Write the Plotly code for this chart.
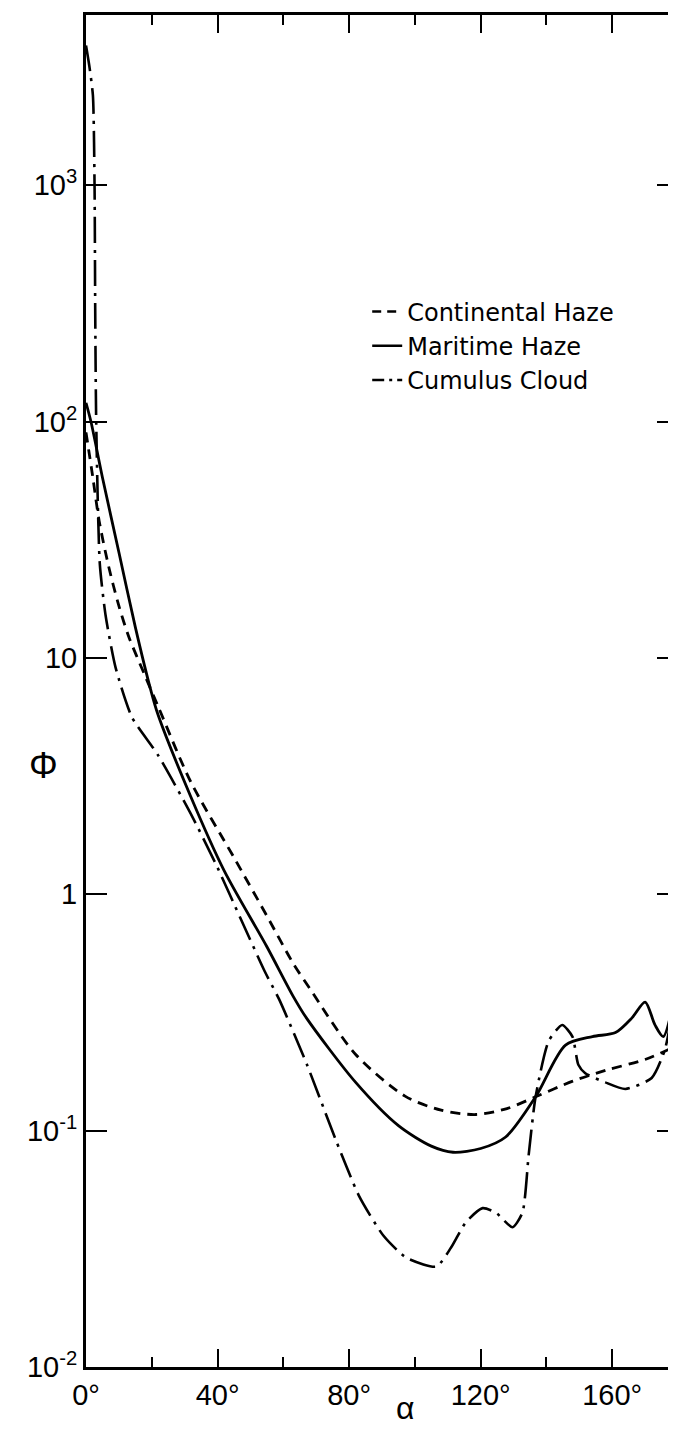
import plotly.graph_objects as go

# phase functions (angle in degrees, Phi)
continental_angle = [0, 2, 4, 7, 10, 13, 17.8, 22, 31.8, 45, 55, 63, 68, 82, 97, 108, 118.6, 128, 136.7, 148, 158, 170, 180]
continental_phi = [90, 59, 38, 24, 16.6, 12.3, 8.5, 6.2, 3.0, 1.43, 0.81, 0.51, 0.40, 0.21, 0.14, 0.122, 0.117, 0.124, 0.139, 0.162, 0.18, 0.20, 0.23]

maritime_angle = [0, 1.5, 5, 10, 15, 19.7, 21.8, 31.8, 42, 55, 63, 67, 82, 95, 105, 111.6, 120, 127.6, 136.7, 145.8, 154, 161, 166, 170, 173, 175.5, 178, 180]
maritime_phi = [120, 100, 58, 28, 13.5, 7.3, 5.8, 2.6, 1.26, 0.6, 0.37, 0.30, 0.16, 0.105, 0.086, 0.081, 0.084, 0.094, 0.139, 0.23, 0.25, 0.26, 0.30, 0.35, 0.28, 0.25, 0.32, 0.55]

cumulus_angle = [0, 1, 2.1, 2.6, 2.8, 3.1, 4.2, 6, 9, 14, 21.8, 31.8, 39.4, 47, 54.4, 58.7, 67.2, 76, 83, 90.4, 97.4, 106.5, 111, 115.5, 120.6, 124.6, 129.7, 132.7, 134.6, 136.7, 140.7, 144.8, 147.9, 149.7, 151.8, 157.9, 164, 172, 176, 180]
cumulus_phi = [3900, 3200, 2400, 1000, 300, 100, 25, 15, 9.1, 5.6, 3.9, 2.2, 1.35, 0.79, 0.47, 0.36, 0.19, 0.091, 0.053, 0.036, 0.029, 0.0266, 0.032, 0.041, 0.047, 0.045, 0.039, 0.045, 0.079, 0.139, 0.24, 0.28, 0.25, 0.19, 0.175, 0.16, 0.15, 0.167, 0.22, 0.45]

series_names = ["Continental Haze", "Maritime Haze", "Cumulus Cloud"]

x_ticks = [0, 40, 80, 120, 160]
x_labels = ["0°", "40°", "80°", "120°", "160°"]
y_ticks = [0.01, 0.1, 1, 10, 100, 1000]
y_labels = ["10<sup>-2</sup>", "10<sup>-1</sup>", "1", "10", "10<sup>2</sup>", "10<sup>3</sup>"]

FONT = "Liberation Sans"
LEG_FONT = "DejaVu Sans"

curves = [
    (continental_angle, continental_phi, dict(width=2.8, dash="10px,7px", smoothing=0.8), "9px,6px"),
    (maritime_angle, maritime_phi, dict(width=2.8, dash="solid", smoothing=0.8), "solid"),
    (cumulus_angle, cumulus_phi, dict(width=2.6, dash="26px,7px,3px,7px", smoothing=0.6), "12px,5px,3px,5px"),
]

fig = go.Figure()
for name, (ax, phi, st, leg_dash) in zip(series_names, curves):
    fig.add_trace(go.Scatter(x=ax, y=phi, name=name, mode="lines", showlegend=False,
                             line=dict(color="black", width=st["width"], dash=st["dash"],
                                       shape="spline", smoothing=st["smoothing"])))
    # legend-only copy with a shorter dash so the pattern shows in the short sample
    fig.add_trace(go.Scatter(x=[None], y=[None], name=name, mode="lines",
                             line=dict(color="black", width=2.6, dash=leg_dash)))

fig.update_xaxes(range=[0, 180], tickvals=x_ticks, ticktext=x_labels,
                 ticks="inside", ticklen=18, tickwidth=2, tickcolor="black",
                 minor=dict(dtick=20, tick0=0, ticks="inside", ticklen=10, tickwidth=2, tickcolor="black"),
                 showline=True, linecolor="black", linewidth=3, mirror="ticks",
                 showgrid=False, zeroline=False,
                 tickfont=dict(family=FONT, size=29, color="black"))
fig.update_yaxes(type="log", range=[-2, 3.72], tickvals=y_ticks, ticktext=y_labels,
                 ticks="inside", ticklen=21, tickwidth=2, tickcolor="black",
                 showline=True, linecolor="black", linewidth=3, mirror="ticks",
                 showgrid=False, zeroline=False,
                 tickfont=dict(family=FONT, size=29, color="black"))

fig.add_annotation(text="Φ", xref="paper", yref="paper", x=-0.10, y=0.445,
                   showarrow=False, font=dict(family=FONT, size=36, color="black"))
fig.add_annotation(text="α", xref="paper", yref="paper", x=0.54, y=-0.030, yanchor="middle",
                   showarrow=False, font=dict(family=FONT, size=32, color="black"))

fig.update_layout(width=676, height=1429, plot_bgcolor="white", paper_bgcolor="white",
                  margin=dict(l=78, r=3, t=7, b=70),
                  legend=dict(x=0.475, y=0.797, xanchor="left", yanchor="top",
                              bgcolor="rgba(0,0,0,0)", font=dict(family=LEG_FONT, size=24, color="black"),
                              tracegroupgap=0, itemwidth=30))

fig.write_html("out.html")
